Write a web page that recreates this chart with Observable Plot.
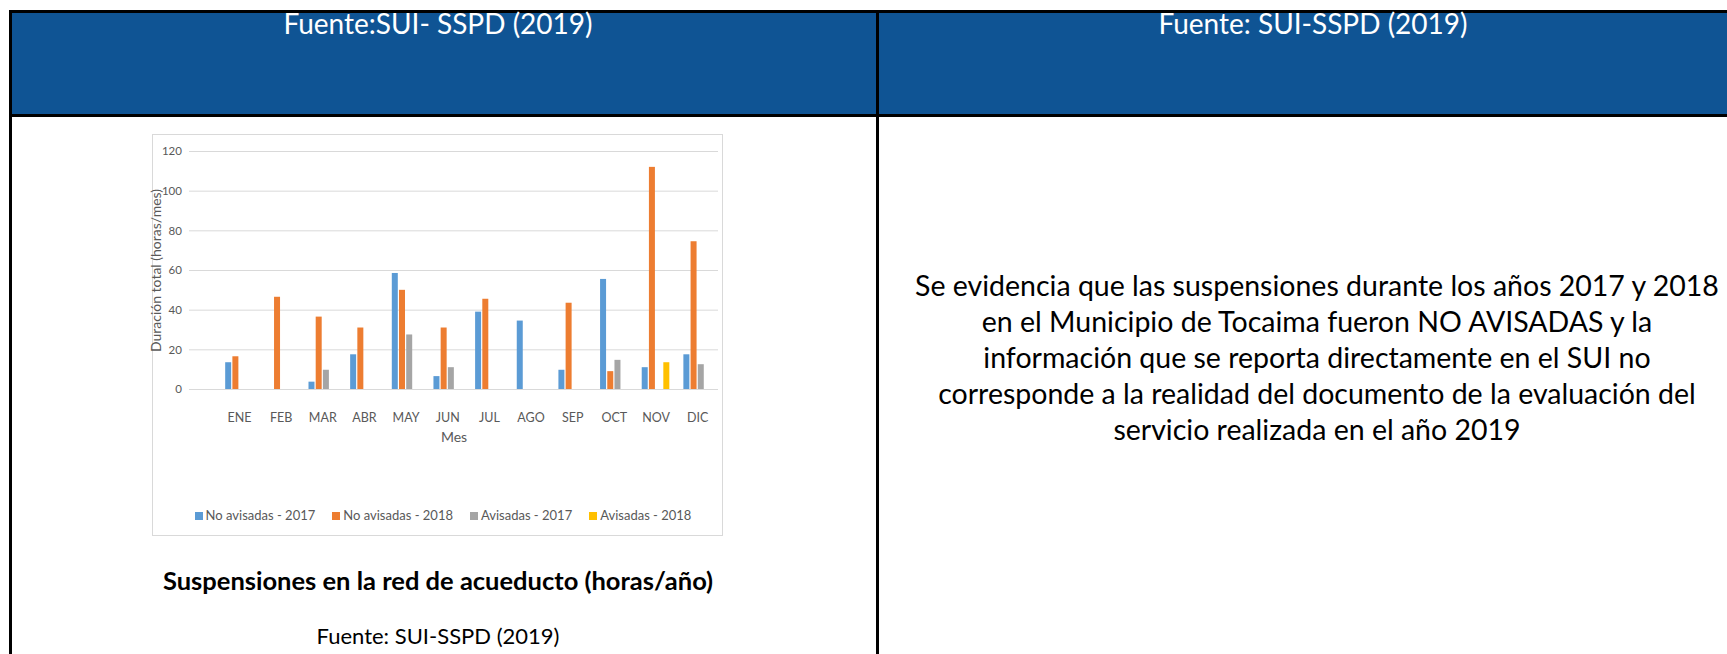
<!DOCTYPE html>
<html><head><meta charset="utf-8">
<script src="https://cdn.jsdelivr.net/npm/d3@7"></script>
<script src="https://cdn.jsdelivr.net/npm/@observablehq/plot@0.6"></script>
<style>
html,body{margin:0;padding:0;background:#fff;}
body{width:1727px;height:654px;overflow:hidden;position:relative;font-family:Lato,"Open Sans",sans-serif;}
.abs{position:absolute;}
.line{position:absolute;background:#000;}
.hdr{position:absolute;color:#fff;font-size:28px;line-height:28px;text-align:center;white-space:nowrap;}
#legend{position:absolute;display:flex;justify-content:center;gap:17px;font-size:13px;color:#595959;white-space:nowrap;}
#legend .sw{display:inline-block;width:8px;height:8px;margin-right:3px;vertical-align:0px;}
</style></head><body>
<div class="abs" style="left:12px;top:13px;width:1715px;height:101px;background:#0F5494"></div>
<div class="line" style="left:9px;top:10px;width:1718px;height:3px"></div>
<div class="line" style="left:9px;top:114px;width:1718px;height:3px"></div>
<div class="line" style="left:9px;top:10px;width:3px;height:644px"></div>
<div class="line" style="left:876px;top:10px;width:3px;height:644px"></div>
<div class="hdr" id="h1" style="left:6px;width:864px;top:9px"></div>
<div class="hdr" id="h2" style="left:879px;width:868px;top:9px"></div>
<div class="abs" style="left:152px;top:134px;width:571px;height:402px;border:1px solid #d9d9d9;box-sizing:border-box"></div>
<div id="chart" class="abs" style="left:152px;top:134px"></div>
<div id="legend" style="left:152px;width:582px;top:507px"></div>
<div id="caption" class="abs" style="left:6px;width:864px;top:565px;text-align:center;font-weight:bold;font-size:25.5px;color:#000;white-space:nowrap"></div>
<div id="source" class="abs" style="left:6px;width:864px;top:622px;text-align:center;font-size:22px;color:#000;white-space:nowrap"></div>
<div id="para" class="abs" style="left:879px;width:876px;top:267px;text-align:center;font-size:28.5px;line-height:36px;color:#000"></div>
<script>
const months = ["ENE","FEB","MAR","ABR","MAY","JUN","JUL","AGO","SEP","OCT","NOV","DIC"];
const seriesNames = ["No avisadas - 2017","No avisadas - 2018","Avisadas - 2017","Avisadas - 2018"];
const seriesColors = ["#5B9BD5","#ED7D31","#A5A5A5","#FFC000"];
const noAvisadas2017 = [13.5, 0, 3.7, 17.5, 58.5, 6.5, 39, 34.5, 9.7, 55.5, 11, 17.5];
const noAvisadas2018 = [16.5, 46.5, 36.5, 31, 50, 31, 45.5, 0, 43.5, 9, 112, 74.5];
const avisadas2017 = [0, 0, 9.7, 0, 27.5, 11, 0, 0, 0, 14.7, 0, 12.5];
const avisadas2018 = [0, 0, 0, 0, 0, 0, 0, 0, 0, 0, 13.5, 0];
const yTicks = [0, 20, 40, 60, 80, 100, 120];
const yTitle = "Duración total (horas/mes)";
const xTitle = "Mes";
const headerLeft = "Fuente:SUI- SSPD (2019)";
const headerRight = "Fuente: SUI-SSPD (2019)";
const captionText = "Suspensiones en la red de acueducto (horas/año)";
const sourceText = "Fuente: SUI-SSPD (2019)";
const paragraphLines = [
  "Se evidencia que las suspensiones durante los años 2017 y 2018",
  "en el Municipio de Tocaima fueron NO AVISADAS y la",
  "información que se reporta directamente en el SUI no",
  "corresponde a la realidad del documento de la evaluación del",
  "servicio realizada en el año 2019"
];

document.getElementById("h1").textContent = headerLeft;
document.getElementById("h2").textContent = headerRight;
document.getElementById("caption").textContent = captionText;
document.getElementById("source").textContent = sourceText;
const para = document.getElementById("para");
paragraphLines.forEach(l => { const d = document.createElement("div"); d.textContent = l; d.style.whiteSpace = "nowrap"; para.appendChild(d); });

// layout
const W = 571, H = 316, mL = 37, mR = 5, mT = 17, mB = 61;
const padOuter = 0.35;
const band = (W - mL - mR) / (months.length + 2 * padOuter);
const pitch = 7.2, barW = 6;
const groupW = seriesNames.length * pitch - (pitch - barW);
const seriesArrays = [noAvisadas2017, noAvisadas2018, avisadas2017, avisadas2018];

const barMarks = seriesArrays.map((arr, i) => {
  const left = (band - groupW) / 2 + i * pitch;
  return Plot.barY(months, {x: months, y: arr, fill: seriesColors[i], insetLeft: left, insetRight: band - left - barW});
});

const chart = Plot.plot({
  width: W, height: H,
  marginTop: mT, marginLeft: mL, marginRight: mR, marginBottom: mB,
  style: {fontFamily: "Lato, sans-serif", fontSize: "12.5px", color: "#595959", background: "transparent", overflow: "visible"},
  x: {domain: months, round: false, paddingInner: 0, paddingOuter: padOuter, align: 1, tickSize: 0, tickPadding: 24, label: xTitle, labelAnchor: "center", labelOffset: 52, labelArrow: "none"},
  y: {domain: [0, 120], ticks: yTicks, tickSize: 0, tickPadding: 7.6, label: yTitle, labelAnchor: "center", labelOffset: 38, labelArrow: "none"},
  marks: [
    Plot.gridY(yTicks, {stroke: "#d9d9d9", strokeOpacity: 1}),
    ...barMarks
  ]
});
chart.querySelectorAll("g").forEach(g => {
  const a = g.getAttribute("aria-label") || "";
  if (a === "y-axis tick label") g.setAttribute("font-size", "11.5px");
  if (a.endsWith("axis label")) g.setAttribute("font-size", "14px");
});
chart.querySelectorAll("text").forEach(t => {
  if (t.textContent === yTitle || t.textContent === xTitle) t.setAttribute("font-size", "14px");
});
document.getElementById("chart").appendChild(chart);

const legend = document.getElementById("legend");
seriesNames.forEach((s, i) => {
  const item = document.createElement("span");
  const sw = document.createElement("span");
  sw.className = "sw"; sw.style.background = seriesColors[i];
  item.appendChild(sw);
  item.appendChild(document.createTextNode(s));
  legend.appendChild(item);
});
</script>
</body></html>
